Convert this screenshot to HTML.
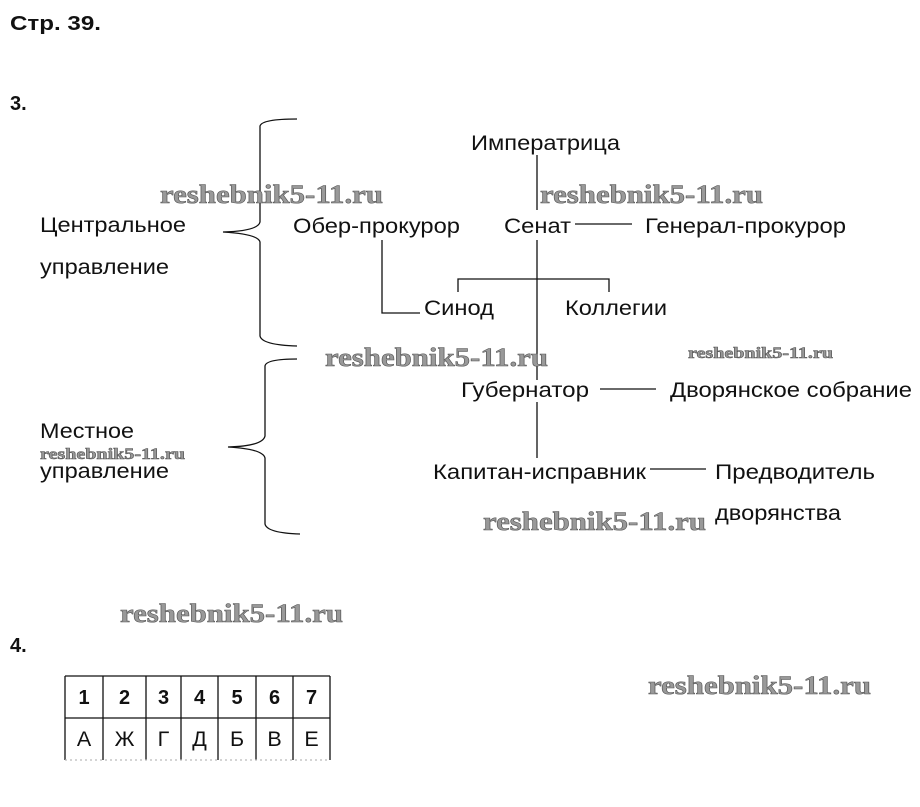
<!DOCTYPE html>
<html><head><meta charset="utf-8"><style>
html,body{margin:0;padding:0;background:#fff;}
svg{display:block;}
.t{font-family:"Liberation Sans",sans-serif;font-size:21.5px;fill:#111;}
.b{font-family:"Liberation Sans",sans-serif;font-size:20px;font-weight:bold;fill:#111;}
.w{font-family:"Liberation Serif",serif;font-weight:bold;fill:#999;stroke:#555;stroke-width:0.6;}
</style></head><body>
<svg width="920" height="807" viewBox="0 0 920 807" xmlns="http://www.w3.org/2000/svg">
<text class="b" x="10" y="30" textLength="91" lengthAdjust="spacingAndGlyphs">Стр. 39.</text>
<text class="b" x="10" y="110">3.</text>
<text class="b" x="10" y="652">4.</text>
<g fill="none" stroke="#111" stroke-width="1.3">
<path d="M297,119 Q262,119 260,126 L260,222 Q258,231 223,232 Q258,234 260,242 L260,336 Q262,345 297,346"/>
<path d="M297,359 Q266,359 265,366 L265,436 Q263,446 228,447 Q263,449 265,458 L265,524 Q267,533 300,534"/>
<path d="M537,155 V210 M537,240 V380 M537,402 V458"/>
<path d="M575,224 H632"/>
<path d="M458,292 V279 H609 V292"/>
<path d="M382,240 V313 H420"/>
<path d="M600,389 H656"/>
<path d="M650,469 H706"/>
</g>
<g class="t">
<text x="471" y="150" textLength="149" lengthAdjust="spacingAndGlyphs">Императрица</text>
<text x="293" y="233" textLength="167" lengthAdjust="spacingAndGlyphs">Обер-прокурор</text>
<text x="504" y="233" textLength="67" lengthAdjust="spacingAndGlyphs">Сенат</text>
<text x="645" y="233" textLength="201" lengthAdjust="spacingAndGlyphs">Генерал-прокурор</text>
<text x="40" y="232" textLength="146" lengthAdjust="spacingAndGlyphs">Центральное</text>
<text x="40" y="274" textLength="129" lengthAdjust="spacingAndGlyphs">управление</text>
<text x="424" y="315" textLength="70" lengthAdjust="spacingAndGlyphs">Синод</text>
<text x="565" y="315" textLength="102" lengthAdjust="spacingAndGlyphs">Коллегии</text>
<text x="461" y="397" textLength="128" lengthAdjust="spacingAndGlyphs">Губернатор</text>
<text x="670" y="397" textLength="242" lengthAdjust="spacingAndGlyphs">Дворянское собрание</text>
<text x="40" y="438" textLength="94" lengthAdjust="spacingAndGlyphs">Местное</text>
<text x="40" y="478" textLength="129" lengthAdjust="spacingAndGlyphs">управление</text>
<text x="433" y="479" textLength="213" lengthAdjust="spacingAndGlyphs">Капитан-исправник</text>
<text x="715" y="479" textLength="160" lengthAdjust="spacingAndGlyphs">Предводитель</text>
<text x="715" y="520" textLength="126" lengthAdjust="spacingAndGlyphs">дворянства</text>
</g>
<g class="w">
<text x="160" y="203" font-size="26" textLength="223" lengthAdjust="spacingAndGlyphs">reshebnik5-11.ru</text>
<text x="540" y="203" font-size="26" textLength="223" lengthAdjust="spacingAndGlyphs">reshebnik5-11.ru</text>
<text x="325" y="366" font-size="26" textLength="223" lengthAdjust="spacingAndGlyphs">reshebnik5-11.ru</text>
<text x="688" y="358" font-size="16" textLength="145" lengthAdjust="spacingAndGlyphs">reshebnik5-11.ru</text>
<text x="40" y="459" font-size="16" textLength="145" lengthAdjust="spacingAndGlyphs">reshebnik5-11.ru</text>
<text x="483" y="530" font-size="26" textLength="223" lengthAdjust="spacingAndGlyphs">reshebnik5-11.ru</text>
<text x="120" y="622" font-size="26" textLength="223" lengthAdjust="spacingAndGlyphs">reshebnik5-11.ru</text>
<text x="648" y="694" font-size="26" textLength="223" lengthAdjust="spacingAndGlyphs">reshebnik5-11.ru</text>
</g>
<g fill="none" stroke="#111" stroke-width="1.3">
<path d="M65,676 H330 M65,718 H330 M65,676 V760 M103,676 V760 M146,676 V760 M181,676 V760 M218,676 V760 M256,676 V760 M293,676 V760 M330,676 V760"/>
<path d="M65,760 H330" stroke="#bbb" stroke-dasharray="2,3"/>
</g>
<g class="b" text-anchor="middle">
<text x="84" y="704">1</text><text x="124.5" y="704">2</text><text x="163.5" y="704">3</text><text x="199.5" y="704">4</text><text x="237" y="704">5</text><text x="274.5" y="704">6</text><text x="311.5" y="704">7</text>
</g>
<g class="t" text-anchor="middle">
<text x="84" y="746">А</text><text x="124.5" y="746">Ж</text><text x="163.5" y="746">Г</text><text x="199.5" y="746">Д</text><text x="237" y="746">Б</text><text x="274.5" y="746">В</text><text x="311.5" y="746">Е</text>
</g>
</svg>
</body></html>
